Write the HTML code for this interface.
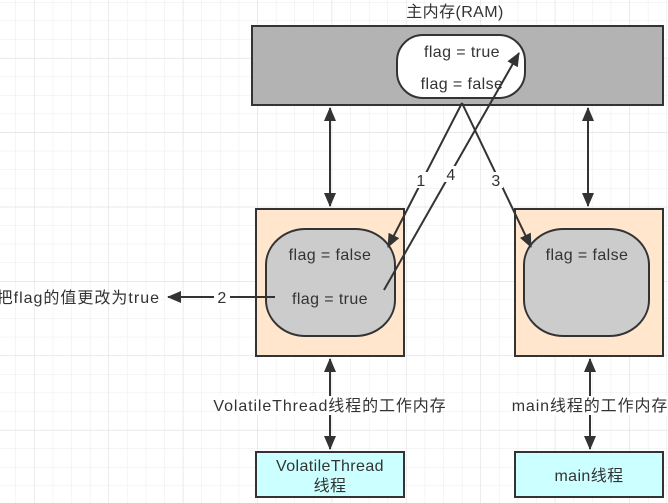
<!DOCTYPE html>
<html><head><meta charset="utf-8"><style>
html,body{margin:0;padding:0;background:#fff;}
svg{display:block;font-family:"Liberation Sans","Noto Sans CJK SC",sans-serif;}
text{font-size:16px;letter-spacing:0.4px;fill:#333;}
</style></head><body>
<svg width="668" height="503" viewBox="0 0 668 503" xmlns="http://www.w3.org/2000/svg">
<defs>
<pattern id="g" x="15.5" y="2" width="18.6" height="18.6" patternUnits="userSpaceOnUse">
<path d="M0 0H18.6M0 0V18.6" stroke="#ebebeb" stroke-width="1" fill="none"/>
</pattern>
<pattern id="G" x="34" y="58" width="74.4" height="74.4" patternUnits="userSpaceOnUse">
<path d="M0 0H74.4M0 0V74.4" stroke="#dedede" stroke-width="1" fill="none"/>
</pattern>
<marker id="ab" markerWidth="14" markerHeight="14" refX="13" refY="7" orient="auto-start-reverse" markerUnits="userSpaceOnUse" viewBox="0 0 14 14">
<path d="M0 1L14 7L0 13Z" fill="#333"/>
</marker>
</defs>
<rect width="668" height="503" fill="url(#g)"/>
<rect width="668" height="503" fill="url(#G)"/>

<text x="455" y="17" text-anchor="middle">主内存(RAM)</text>
<rect x="252" y="26" width="411" height="79" fill="#b3b3b3" stroke="#333" stroke-width="2"/>
<rect x="397" y="35" width="128" height="63" rx="26" fill="#fff" stroke="#333" stroke-width="2"/>
<text x="462" y="57" text-anchor="middle">flag = true</text>
<text x="462" y="89" text-anchor="middle">flag = false</text>

<rect x="256" y="209" width="148" height="147" fill="#ffe6cc" stroke="#333" stroke-width="2"/>
<rect x="266" y="229" width="129" height="107" rx="40" ry="36" fill="#ccc" stroke="#333" stroke-width="2"/>
<text x="330" y="260" text-anchor="middle">flag = false</text>
<text x="330" y="304" text-anchor="middle">flag = true</text>

<rect x="515" y="209" width="148" height="147" fill="#ffe6cc" stroke="#333" stroke-width="2"/>
<rect x="524" y="229" width="125" height="107" rx="40" ry="36" fill="#ccc" stroke="#333" stroke-width="2"/>
<text x="587" y="260" text-anchor="middle">flag = false</text>

<rect x="256" y="452" width="148" height="45" fill="#ccffff" stroke="#333" stroke-width="2"/>
<text x="330" y="471" text-anchor="middle">VolatileThread</text>
<text x="330" y="491" text-anchor="middle">线程</text>
<rect x="515" y="452" width="148" height="45" fill="#ccffff" stroke="#333" stroke-width="2"/>
<text x="589" y="481" text-anchor="middle">main线程</text>

<g stroke="#333" stroke-width="2" fill="none">
<line x1="330" y1="108" x2="330" y2="206" marker-start="url(#ab)" marker-end="url(#ab)"/>
<line x1="588" y1="108" x2="588" y2="206" marker-start="url(#ab)" marker-end="url(#ab)"/>
<line x1="330" y1="359" x2="330" y2="449" marker-start="url(#ab)" marker-end="url(#ab)"/>
<line x1="590" y1="359" x2="590" y2="449" marker-start="url(#ab)" marker-end="url(#ab)"/>
<line x1="462" y1="103" x2="388" y2="247" marker-end="url(#ab)"/>
<line x1="462" y1="103" x2="531" y2="247" marker-end="url(#ab)"/>
<line x1="384" y1="290" x2="519" y2="53" marker-end="url(#ab)"/>
<line x1="275" y1="297" x2="168" y2="297" marker-end="url(#ab)"/>
</g>
<rect x="214" y="289" width="16" height="17" fill="#fff"/>
<text x="222" y="303" text-anchor="middle">2</text>
<rect x="414" y="172" width="14" height="16" fill="#fff"/>
<text x="421" y="186" text-anchor="middle">1</text>
<rect x="444" y="166" width="14" height="16" fill="#fff"/>
<text x="451" y="180" text-anchor="middle">4</text>
<rect x="489" y="172" width="14" height="16" fill="#fff"/>
<text x="496" y="186" text-anchor="middle">3</text>
<text x="160" y="303" text-anchor="end" style="letter-spacing:1px">把flag的值更改为true</text>

<rect x="218" y="396" width="224" height="19" fill="#fff"/>
<text x="330" y="411" text-anchor="middle" style="letter-spacing:0.9px">VolatileThread线程的工作内存</text>
<rect x="514" y="396" width="154" height="19" fill="#fff"/>
<text x="590" y="411" text-anchor="middle" style="letter-spacing:0.9px">main线程的工作内存</text>
</svg>
</body></html>
